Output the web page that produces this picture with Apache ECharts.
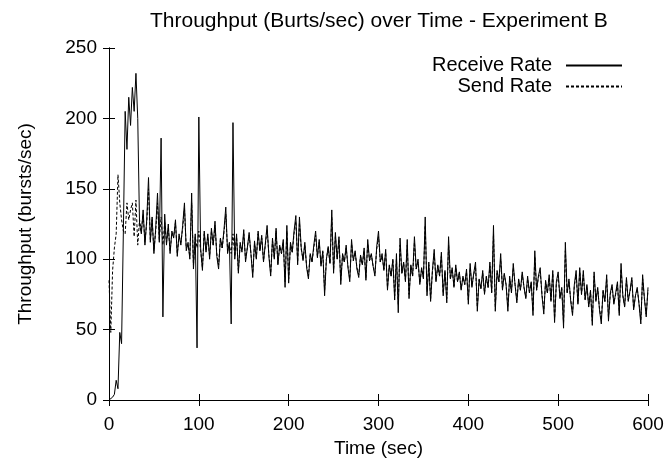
<!DOCTYPE html>
<html>
<head>
<meta charset="utf-8">
<script src="https://cdn.jsdelivr.net/npm/echarts@6/dist/echarts.min.js"></script>
<style>
html,body{margin:0;padding:0;background:#fff;}
#chart{width:670px;height:466px;}
</style>
</head>
<body>
<div id="chart"></div>
<script>
// Sampling interval of the measurements (seconds)
var SAMPLE_STEP_SEC = 2;

// Receive rate (bursts/sec), one value every 2 s from t=0 to t=600
var receiveRate = [
  0, 0, 2, 4, 14, 8, 48, 40, 120, 205,
  178, 215, 195, 222, 205, 232, 200, 125, 118, 135,
  110, 128, 158, 112, 130, 104, 122, 147, 112, 186,
  59, 132, 110, 125, 104, 120, 115, 128, 102, 118,
  110, 124, 140, 106, 112, 100, 147, 93, 118, 37,
  201, 108, 92, 120, 105, 118, 100, 122, 110, 127,
  102, 93, 115, 108, 121, 137, 104, 112, 54, 197,
  100, 118, 90, 112, 105, 121, 98, 108, 119, 104,
  87, 113, 100, 120, 106, 117, 98, 111, 124, 102,
  88, 115, 100, 122, 96, 110, 104, 114, 80, 124,
  83, 112, 105, 120, 131, 96, 130, 108, 99, 112,
  94, 86, 104, 98, 110, 120, 101, 114, 95, 106,
  74, 100, 109, 97, 135, 90, 119, 100, 116, 82,
  104, 98, 110, 94, 84, 114, 99, 106, 93, 87,
  103, 96, 108, 85, 114, 99, 104, 95, 88, 109,
  120, 98, 104, 92, 107, 78, 96, 88, 100, 71,
  104, 62, 115, 90, 98, 84, 114, 72, 96, 88,
  116, 93, 100, 82, 94, 86, 130, 74, 98, 70,
  92, 107, 84, 96, 88, 105, 74, 92, 69, 116,
  86, 94, 80, 96, 84, 91, 78, 88, 82, 93,
  68, 97, 80, 90, 98, 63, 86, 79, 92, 75,
  88, 80, 98, 76, 124, 63, 92, 84, 104, 78,
  90, 82, 63, 88, 76, 97, 82, 69, 86, 78,
  91, 80, 72, 88, 76, 84, 60, 106, 78, 88,
  94, 74, 61, 85, 76, 89, 70, 92, 55, 84,
  91, 72, 80, 51, 112, 76, 86, 70, 60, 82,
  92, 68, 94, 75, 92, 71, 82, 66, 78, 53,
  91, 70, 80, 64, 54, 78, 70, 89, 56, 76,
  82, 68, 76, 84, 60, 97, 74, 66, 87, 70,
  78, 87, 64, 74, 80, 68, 54, 89, 72, 59,
  80
];

// Send rate (bursts/sec), one value every 2 s from t=0 to t=600
var sendRate = [
  85, 48, 92, 108, 118, 160, 140, 128, 120, 118,
  140, 128, 135, 140, 116, 142, 110, 128, 120, 132,
  112, 126, 150, 114, 128, 106, 120, 140, 114, 130,
  110, 126, 112, 122, 106, 118, 116, 126, 104, 116,
  112, 122, 136, 108, 110, 102, 140, 96, 116, 108,
  120, 106, 94, 118, 106, 116, 102, 120, 110, 124,
  104, 96, 114, 108, 119, 132, 106, 110, 104, 118,
  102, 116, 92, 110, 106, 118, 100, 108, 117, 104,
  90, 111, 101, 118, 106, 115, 99, 110, 121, 103,
  90, 113, 101, 120, 97, 109, 104, 112, 84, 120,
  86, 110, 105, 118, 127, 98, 126, 107, 100, 110,
  95, 88, 103, 98, 108, 117, 102, 112, 96, 105,
  78, 100, 108, 97, 130, 92, 116, 100, 114, 85,
  103, 98, 108, 95, 86, 111, 99, 105, 94, 89,
  102, 96, 106, 87, 111, 99, 103, 95, 90, 107,
  116, 98, 102, 93, 105, 80, 95, 88, 99, 74,
  100, 68, 110, 90, 97, 85, 110, 75, 95, 88,
  112, 93, 98, 83, 93, 87, 124, 77, 96, 72,
  91, 104, 85, 95, 88, 102, 76, 91, 72, 110,
  86, 93, 81, 94, 84, 90, 79, 87, 82, 91,
  71, 94, 81, 89, 95, 66, 85, 79, 90, 76,
  87, 80, 95, 77, 118, 66, 90, 84, 100, 79,
  89, 82, 66, 86, 77, 94, 82, 71, 85, 78,
  89, 80, 73, 86, 77, 83, 63, 102, 78, 87,
  91, 75, 64, 84, 76, 87, 71, 90, 58, 83,
  88, 73, 79, 55, 106, 76, 84, 71, 62, 81,
  89, 69, 91, 75, 89, 72, 81, 67, 77, 56,
  88, 71, 79, 65, 57, 77, 70, 86, 59, 75,
  80, 69, 75, 82, 62, 93, 74, 67, 85, 71,
  77, 85, 65, 74, 79, 69, 57, 86, 72, 61,
  78
];

var seriesNames = ['Receive Rate', 'Send Rate'];
var xTicks = [0, 100, 200, 300, 400, 500, 600];
var yTicks = [0, 50, 100, 150, 200, 250];

function toPairs(arr) {
  var out = [];
  for (var i = 0; i < arr.length; i++) out.push([i * SAMPLE_STEP_SEC, arr[i]]);
  return out;
}

var FONT = '"Liberation Sans", Arial, Helvetica, sans-serif';
var chart = echarts.init(document.getElementById('chart'), null, {renderer: 'canvas'});

function axisBase(extra) {
  var base = {
    axisLine: {show: true, lineStyle: {color: '#000', width: 1}},
    axisTick: {show: true, inside: true, length: 6, lineStyle: {color: '#000', width: 1}},
    splitLine: {show: false},
    axisLabel: {color: '#000', fontFamily: FONT, fontSize: 19}
  };
  for (var k in extra) base[k] = extra[k];
  return base;
}

var option = {
  animation: false,
  backgroundColor: '#fff',
  title: {
    text: 'Throughput (Burts/sec) over Time - Experiment B',
    left: 145, top: 6,
    textStyle: {fontFamily: FONT, fontSize: 21, fontWeight: 'normal', color: '#000'}
  },
  legend: {
    data: seriesNames,
    orient: 'vertical',
    right: 47, top: 55,
    padding: 0,
    align: 'right',
    itemWidth: 56, itemHeight: 12, itemGap: 0,
    itemStyle: {opacity: 0},
    textStyle: {fontFamily: FONT, fontSize: 20, lineHeight: 21, color: '#000', padding: [0, 9, 0, 0]}
  },
  grid: {left: 109, right: 22, top: 48, bottom: 66, containLabel: false},
  xAxis: [
    axisBase({
      type: 'value', min: xTicks[0], max: xTicks[xTicks.length - 1], interval: 100,
      name: 'Time (sec)', nameLocation: 'middle', nameGap: 38,
      nameTextStyle: {fontFamily: FONT, fontSize: 19, color: '#000'},
      axisLabel: {color: '#000', fontFamily: FONT, fontSize: 19, margin: 15}
    }),
    axisBase({
      type: 'value', position: 'top', min: xTicks[0], max: xTicks[xTicks.length - 1], interval: 100,
      axisLabel: {show: false}
    })
  ],
  yAxis: [
    axisBase({
      type: 'value', min: yTicks[0], max: yTicks[yTicks.length - 1], interval: 50,
      name: 'Throughput (bursts/sec)', nameLocation: 'middle', nameGap: 74,
      nameTextStyle: {fontFamily: FONT, fontSize: 19, color: '#000'},
      axisLabel: {color: '#000', fontFamily: FONT, fontSize: 19, margin: 12}
    }),
    axisBase({
      type: 'value', position: 'right', min: yTicks[0], max: yTicks[yTicks.length - 1], interval: 50,
      axisLabel: {show: false}
    })
  ],
  series: [
    {
      name: seriesNames[0], type: 'line', xAxisIndex: 0, yAxisIndex: 0,
      data: toPairs(receiveRate), symbol: 'none', showSymbol: false,
      lineStyle: {color: '#000', width: 1, type: 'solid'},
      itemStyle: {color: '#000'}
    },
    {
      name: seriesNames[1], type: 'line', xAxisIndex: 0, yAxisIndex: 0,
      data: toPairs(sendRate), symbol: 'none', showSymbol: false,
      lineStyle: {color: '#000', width: 1, type: [3, 2]},
      itemStyle: {color: '#000'}
    }
  ]
};
chart.setOption(option);
</script>
</body>
</html>
